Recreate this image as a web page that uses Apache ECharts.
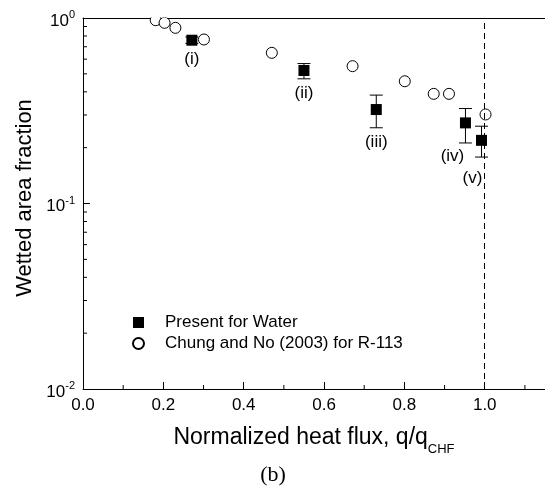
<!DOCTYPE html>
<html><head><meta charset="utf-8">
<script src="https://cdn.jsdelivr.net/npm/echarts@6/dist/echarts.min.js"></script>
<style>html,body{margin:0;padding:0;background:#fff}#c{width:545px;height:492px}</style>
</head><body><div id="c"></div>
<script>
// ---- data ----
const presentX = [0.271, 0.550, 0.730, 0.952, 0.992];
const presentY = [0.759, 0.521, 0.321, 0.272, 0.219];
const presentLow = [0.730, 0.470, 0.256, 0.212, 0.178];
const presentHigh = [0.790, 0.568, 0.384, 0.325, 0.261];
const presentLabels = ['(i)', '(ii)', '(iii)', '(iv)', '(v)'];
const chungX = [0.181, 0.203, 0.230, 0.301, 0.470, 0.671, 0.801, 0.873, 0.911, 1.002];
const chungY = [0.973, 0.942, 0.885, 0.766, 0.649, 0.550, 0.456, 0.390, 0.390, 0.302];
const xTickValues = [0, 0.2, 0.4, 0.6, 0.8, 1.0];
const xTickLabels = ['0.0', '0.2', '0.4', '0.6', '0.8', '1.0'];
const xMinorTicks = [0.1, 0.3, 0.5, 0.7, 0.9, 1.1];
const yTickValues = [0.01, 0.1, 1];
const yTickExponents = ['-2', '-1', '0'];
const yMinorTicks = [0.02, 0.03, 0.04, 0.05, 0.06, 0.07, 0.08, 0.09, 0.2, 0.3, 0.4, 0.5, 0.6, 0.7, 0.8, 0.9];
const chfLine = 1.0;
const seriesNames = ['Present for Water', 'Chung and No (2003) for R-113'];

// ---- label placement (styling, not data) ----
const labelOffsets = [[0, 19], [0, 23], [0, 33], [-13, 33], [-9, 38]];

const FONT = "'Liberation Sans', Arial, sans-serif";
const chart = echarts.init(document.getElementById('c'), null, {renderer: 'canvas'});

const ann = presentX.map((x, i) => ({
  value: [x, presentY[i]],
  label: {show: true, formatter: presentLabels[i], position: 'inside', offset: labelOffsets[i],
          color: '#000', fontSize: 17, fontFamily: FONT}
}));

const option = {
  animation: false,
  backgroundColor: '#fff',
  grid: {left: 83, top: 18, width: 462, height: 371, containLabel: false},
  legend: {
    data: seriesNames,
    orient: 'vertical', left: 127, top: 309,
    itemWidth: 11, itemHeight: 11, itemGap: 4,
    textStyle: {fontSize: 17, fontFamily: FONT, color: '#000', lineHeight: 17, padding: [0, 0, 0, 16]},
    selectedMode: false
  },
  xAxis: [{
    type: 'value', min: 0, max: 1.15, interval: 0.2, position: 'bottom',
    axisLine: {show: true, lineStyle: {color: '#000', width: 1}},
    axisTick: {show: true, inside: true, length: 7, lineStyle: {color: '#000'}},
    axisLabel: {show: true, margin: 8, fontSize: 17, fontFamily: FONT, color: '#000', showMaxLabel: false,
      formatter: v => { const i = xTickValues.findIndex(t => Math.abs(t - v) < 1e-6); return i >= 0 ? xTickLabels[i] : ''; }},
    splitLine: {show: false}
  }, {
    type: 'value', min: 0, max: 1.15, position: 'top',
    axisLine: {show: true, lineStyle: {color: '#000', width: 1}},
    axisTick: {show: false}, axisLabel: {show: false}, splitLine: {show: false}
  }],
  yAxis: {
    type: 'log', logBase: 10, min: 0.01, max: 1,
    axisLine: {show: true, lineStyle: {color: '#000', width: 1}},
    axisTick: {show: true, inside: true, length: 7, lineStyle: {color: '#000'}},
    axisLabel: {
      show: true, margin: 8, color: '#000',
      formatter: v => {
        const i = yTickValues.findIndex(t => Math.abs(Math.log10(t) - Math.log10(v)) < 1e-6);
        return i >= 0 ? '{b|10}{s|' + yTickExponents[i] + '}' : '';
      },
      rich: {
        b: {fontSize: 17, fontFamily: FONT, color: '#000', lineHeight: 17, verticalAlign: 'top', padding: [3, 0, 0, 0]},
        s: {fontSize: 11, fontFamily: FONT, color: '#000', lineHeight: 11, verticalAlign: 'top'}
      }
    },
    splitLine: {show: false}
  },
  series: [
    {
      name: 'yMinorTicks', type: 'scatter', silent: true, z: 5, clip: false,
      symbol: 'rect', symbolSize: [4, 1], symbolOffset: [2, 0],
      itemStyle: {color: '#000', opacity: 1}, emphasis: {disabled: true},
      data: yMinorTicks.map(v => [0, v])
    },
    {
      name: 'xMinorTicks', type: 'scatter', silent: true, z: 5, clip: false,
      symbol: 'rect', symbolSize: [1, 4], symbolOffset: [0, -2],
      itemStyle: {color: '#000', opacity: 1}, emphasis: {disabled: true},
      data: xMinorTicks.map(v => [v, 0.01])
    },
    {
      name: 'errorBars', type: 'custom', silent: true, z: 2,
      data: presentX.map((x, i) => [x, presentY[i], presentLow[i], presentHigh[i]]),
      renderItem: (p, api) => {
        const x = api.value(0);
        const lo = api.coord([x, api.value(2)]);
        const hi = api.coord([x, api.value(3)]);
        const hw = 6.5;
        const st = {stroke: '#000', lineWidth: 1};
        return {type: 'group', children: [
          {type: 'line', shape: {x1: lo[0], y1: lo[1], x2: hi[0], y2: hi[1]}, style: st},
          {type: 'line', shape: {x1: lo[0] - hw, y1: lo[1], x2: lo[0] + hw, y2: lo[1]}, style: st},
          {type: 'line', shape: {x1: hi[0] - hw, y1: hi[1], x2: hi[0] + hw, y2: hi[1]}, style: st}
        ]};
      },
      markLine: {
        silent: true, symbol: 'none', label: {show: false},
        lineStyle: {color: '#000', width: 1, type: [6, 4]},
        data: [{xAxis: chfLine}]
      }
    },
    {
      name: seriesNames[0], type: 'scatter', symbol: 'rect', symbolSize: 11, z: 3,
      itemStyle: {color: '#000', opacity: 1},
      emphasis: {disabled: true},
      data: ann
    },
    {
      name: seriesNames[1], type: 'scatter', symbol: 'circle', symbolSize: 11, z: 3,
      itemStyle: {color: '#fff', borderColor: '#000', borderWidth: 1, opacity: 1},
      emphasis: {disabled: true},
      data: chungX.map((x, i) => [x, chungY[i]])
    }
  ],
  graphic: [
    {type: 'rect', z: 100, shape: {x: 84, y: 0, width: 461, height: 17.5}, style: {fill: '#fff'}},
    {type: 'text', x: 314, y: 426, style: {
      text: '{m|Normalized heat flux, q/q}{sub|CHF}', align: 'center', verticalAlign: 'top',
      rich: {
        m: {fontSize: 23, fontFamily: FONT, fill: '#000', lineHeight: 23, verticalAlign: 'top'},
        sub: {fontSize: 13, fontFamily: FONT, fill: '#000', lineHeight: 13, verticalAlign: 'top', padding: [17, 0, 0, 0]}
      }}},
    {type: 'text', x: 25, y: 198, rotation: Math.PI / 2, style: {
      text: 'Wetted area fraction', fontSize: 22, fontFamily: FONT, fill: '#000', align: 'center', verticalAlign: 'middle'}},
    {type: 'text', x: 273, y: 475, style: {
      text: '(b)', fontSize: 22, fontFamily: "'Liberation Serif', 'Times New Roman', serif", fill: '#000',
      align: 'center', verticalAlign: 'middle'}}
  ]
};
chart.setOption(option);
</script>
</body></html>
